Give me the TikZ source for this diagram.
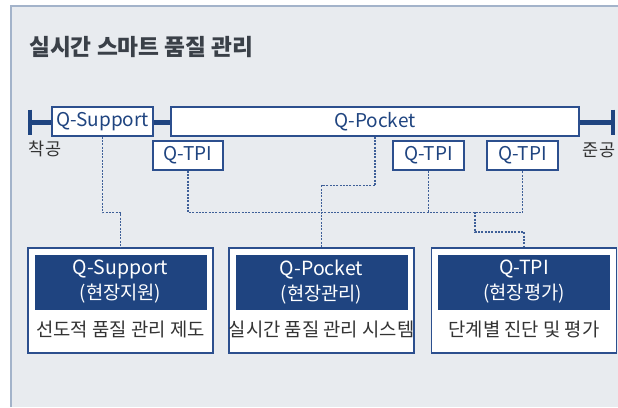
\documentclass[tikz,border=0pt]{standalone}
\usepackage{fontspec}
\setmainfont{Noto Sans CJK KR}
\usetikzlibrary{positioning}
\definecolor{panelbg}{HTML}{E8EBEF}
\definecolor{panelline}{HTML}{A3B3CA}
\definecolor{navy}{HTML}{1F4480}
\definecolor{boxline}{HTML}{2C4F8E}
\definecolor{linkc}{HTML}{3E5F98}
\definecolor{titlec}{HTML}{3A4048}
\definecolor{textc}{HTML}{333333}

\begin{document}
\begin{tikzpicture}[x=1pt,y=-1pt,
  title/.style={font=\fontsize{22.7}{26}\selectfont\bfseries,text=titlec,inner sep=0pt},
  bar/.style={draw=navy,line width=4.5pt},
  tick/.style={draw=navy,line width=4.5pt},
  tlbox/.style={draw=boxline,fill=white,line width=1.3pt,inner sep=0pt,minimum height=29pt,font=\fontsize{19}{22}\selectfont,text=navy},
  endlabel/.style={font=\fontsize{17.5}{20}\selectfont,text=textc,inner sep=0pt},
  link/.style={draw=linkc,line width=1.1pt,dash pattern=on 2pt off 1.3pt},
  card/.style={draw=boxline,fill=white,line width=1.2pt,inner sep=0pt,minimum width=185pt,minimum height=105pt},
  cardhead/.style={fill=navy,text=white,inner sep=0pt,minimum width=172pt,minimum height=55pt,align=center,font=\fontsize{19.5}{25}\selectfont},
  carddesc/.style={font=\fontsize{18.8}{22}\selectfont,text=textc,inner sep=0pt}]
\useasboundingbox (0,0) rectangle (618,407);
\fill[panelbg] (11,6) rectangle (618,407);
\draw[panelline,line width=1.5pt] (11,407) -- (11,6) -- (618,6);
\node[title,anchor=west] (ttl) at (29,47) {실시간 스마트 품질 관리};

\coordinate (st) at (30,122.5);
\coordinate (en) at (613,122.5);
\draw[bar] (st) -- (en);
\draw[tick] (st) ++(0,-13) -- ++(0,25);
\draw[tick] (en) ++(0,-13) -- ++(0,25);
\node[endlabel] (start) at (45,149) {착공};
\node[endlabel] (finish) at (599,150) {준공};

\node[tlbox,minimum width=101pt] (qs) at (102.5,121.5) {Q-Support};
\node[tlbox,minimum width=408pt] (qp) at (375,121.5) {Q-Pocket};
\node[tlbox,minimum width=70pt] (t1) at (188,155.5) {Q-TPI};
\node[tlbox,minimum width=71pt] (t2) at (428.5,155.5) {Q-TPI};
\node[tlbox,minimum width=71pt] (t3) at (522.5,155.5) {Q-TPI};

\node[card] (b1) at (120.5,300.5) {};
\node[card] (b2) at (321.5,300.5) {};
\node[card] (b3) at (524,300.5) {};
\node[cardhead] (h1) at (120.5,282) {Q-Support\\{\fontsize{18.7}{20}\selectfont(현장지원)}};
\node[cardhead] (h2) at (321.5,282) {Q-Pocket\\{\fontsize{18.7}{20}\selectfont(현장관리)}};
\node[cardhead] (h3) at (524,282) {Q-TPI\\{\fontsize{18.7}{20}\selectfont(현장평가)}};
\node[carddesc] (d1) at (120.5,329) {선도적 품질 관리 제도};
\node[carddesc] (d2) at (321.5,329) {실시간 품질 관리 시스템};
\node[carddesc] (d3) at (524,329) {단계별 진단 및 평가};

\draw[link] (qs.south) -- ++(0,76) -| (b1.north);
\draw[link] (qp.south) -- ++(0,49) -| (b2.north);
\draw[link] (t1.south) -- ++(0,42) coordinate (bus) -| (t3.south);
\draw[link] (t2.south) -- (t2.south |- bus);
\coordinate (drop) at (475,212);
\draw[link] (drop) -- ++(0,20) -| (b3.north);
\end{tikzpicture}
\end{document}
